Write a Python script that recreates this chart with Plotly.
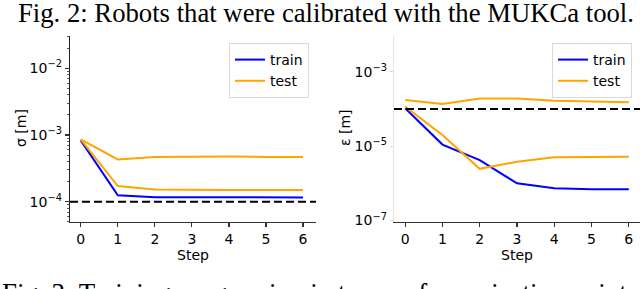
import numpy as np
import plotly.graph_objects as go

steps = [0, 1, 2, 3, 4, 5, 6]

# Left panel: sigma [m]
sigma_train = [8.3e-4, 1.25e-4, 1.17e-4, 1.16e-4, 1.16e-4, 1.16e-4, 1.16e-4]
sigma_test_a = [8.6e-4, 4.3e-4, 4.7e-4, 4.75e-4, 4.75e-4, 4.7e-4, 4.7e-4]
sigma_test_b = [8.6e-4, 1.72e-4, 1.52e-4, 1.5e-4, 1.5e-4, 1.5e-4, 1.5e-4]
sigma_threshold = 1e-4

# Right panel: epsilon [m]
eps_train = [1.04e-4, 1.1e-5, 4.2e-6, 1.0e-6, 7.4e-7, 6.9e-7, 6.9e-7]
eps_test_a = [1.73e-4, 1.35e-4, 1.9e-4, 1.9e-4, 1.65e-4, 1.55e-4, 1.52e-4]
eps_test_b = [1.15e-4, 2.0e-5, 2.45e-6, 3.8e-6, 5.0e-6, 5.2e-6, 5.2e-6]
eps_threshold = 1e-4

x_ticks = [0, 1, 2, 3, 4, 5, 6]
left_yticks = [1e-4, 1e-3, 1e-2]
left_yticktext = ["10<sup>−4</sup>", "10<sup>−3</sup>", "10<sup>−2</sup>"]
right_yticks = [1e-7, 1e-5, 1e-3]
right_yticktext = ["10<sup>−7</sup>", "10<sup>−5</sup>", "10<sup>−3</sup>"]

BLUE = "#0000ff"
ORANGE = "#ffa500"
W, H = 640, 289

def px(x):
    return x / W

def py(y):
    return 1 - y / H

left_xrange = [-0.29, 6.35]
right_xrange = [-0.3, 6.3]
left_yrange = [-4.304, -1.516]
right_yrange = [-7.04, -2.04]

fig = go.Figure()

def add_panel(xa, ya, train, tests, thr, xr, legend):
    fig.add_trace(go.Scatter(x=steps, y=train, mode="lines", name="train",
                             line=dict(color=BLUE, width=2), xaxis=xa, yaxis=ya,
                             legend=legend))
    for i, t in enumerate(tests):
        fig.add_trace(go.Scatter(x=steps, y=t, mode="lines", name="test",
                                 line=dict(color=ORANGE, width=2), xaxis=xa, yaxis=ya,
                                 legend=legend, showlegend=(i == 0)))
    fig.add_trace(go.Scatter(x=xr, y=[thr, thr], mode="lines", showlegend=False,
                             line=dict(color="black", width=2, dash="8px,4px"),
                             xaxis=xa, yaxis=ya, cliponaxis=False))

add_panel("x", "y", sigma_train, [sigma_test_a, sigma_test_b], sigma_threshold,
          left_xrange, "legend")
add_panel("x2", "y2", eps_train, [eps_test_a, eps_test_b], eps_threshold,
          right_xrange, "legend2")

tickfont = dict(family="DejaVu Sans", size=14, color="black")
ydom = [py(222), py(36)]

minor_left = [m * 10.0 ** e for e in range(-5, -1) for m in range(2, 10)]

common_x = dict(tickvals=x_ticks, ticks="outside", ticklen=4, tickwidth=1.2,
                tickcolor="#333", showline=True, linecolor="#333", linewidth=1.3,
                showgrid=False, zeroline=False, tickfont=tickfont, automargin=False,
                title=dict(text="Step", font=tickfont, standoff=4))

legend_common = dict(xanchor="right", yanchor="top",
                     bgcolor="rgba(255,255,255,0.8)", bordercolor="#d9d9d9", borderwidth=1,
                     font=dict(family="DejaVu Sans", size=14, color="black"),
                     itemwidth=30, tracegroupgap=0)

fig.update_layout(
    width=W, height=H,
    margin=dict(l=0, r=0, t=0, b=0, autoexpand=False),
    paper_bgcolor="white", plot_bgcolor="white",
    hovermode=False,
    xaxis=dict(domain=[px(70), px(316)], range=left_xrange, anchor="y", **common_x),
    xaxis2=dict(domain=[px(394), px(640)], range=right_xrange, anchor="y2", **common_x),
    yaxis=dict(domain=ydom, type="log", range=left_yrange, anchor="x",
               tickvals=left_yticks, ticktext=left_yticktext, ticks="outside",
               ticklen=4, tickwidth=1.2, tickcolor="#333", showline=True,
               linecolor="#222", linewidth=1.3, showgrid=False, zeroline=False,
               tickfont=tickfont, automargin=False,
               minor=dict(tickvals=minor_left, ticks="outside", ticklen=2,
                          tickwidth=0.8, tickcolor="#333", showgrid=False)),
    yaxis2=dict(domain=ydom, type="log", range=right_yrange, anchor="x2",
                tickvals=right_yticks, ticktext=right_yticktext, ticks="outside",
                ticklen=3, tickwidth=1, tickcolor="#dddddd", showline=True,
                linecolor="#e4e4e4", linewidth=1.3, showgrid=False, zeroline=False,
                tickfont=tickfont, automargin=False),
    legend=dict(x=px(309), y=py(43), **legend_common),
    legend2=dict(x=px(632), y=py(43), **legend_common),
    annotations=[
        dict(text="σ [m]", textangle=-90, x=px(21), y=py(128), xref="paper", yref="paper",
             xanchor="center", yanchor="middle",
             showarrow=False, font=dict(family="DejaVu Sans", size=14, color="black")),
        dict(text="ε [m]", textangle=-90, x=px(345), y=py(128), xref="paper", yref="paper",
             xanchor="center", yanchor="middle",
             showarrow=False, font=dict(family="DejaVu Sans", size=14, color="black")),
        dict(text="Fig. 2: Robots that were calibrated with the MUKCa tool.",
             x=px(16), y=py(13), xref="paper", yref="paper", showarrow=False,
             xanchor="left", yanchor="middle",
             font=dict(family="Liberation Serif", size=26.7, color="black")),
        dict(text="Fig. 3: Training progression in terms of reprojection point error and distortion",
             x=px(0), y=py(276), xref="paper", yref="paper", showarrow=False,
             xanchor="left", yanchor="top",
             font=dict(family="Liberation Serif", size=27, color="black")),
    ],
)

fig.write_html("out.html", config={"displayModeBar": False, "staticPlot": True},
               post_script="document.body.style.margin='0';document.body.style.padding='0';")
